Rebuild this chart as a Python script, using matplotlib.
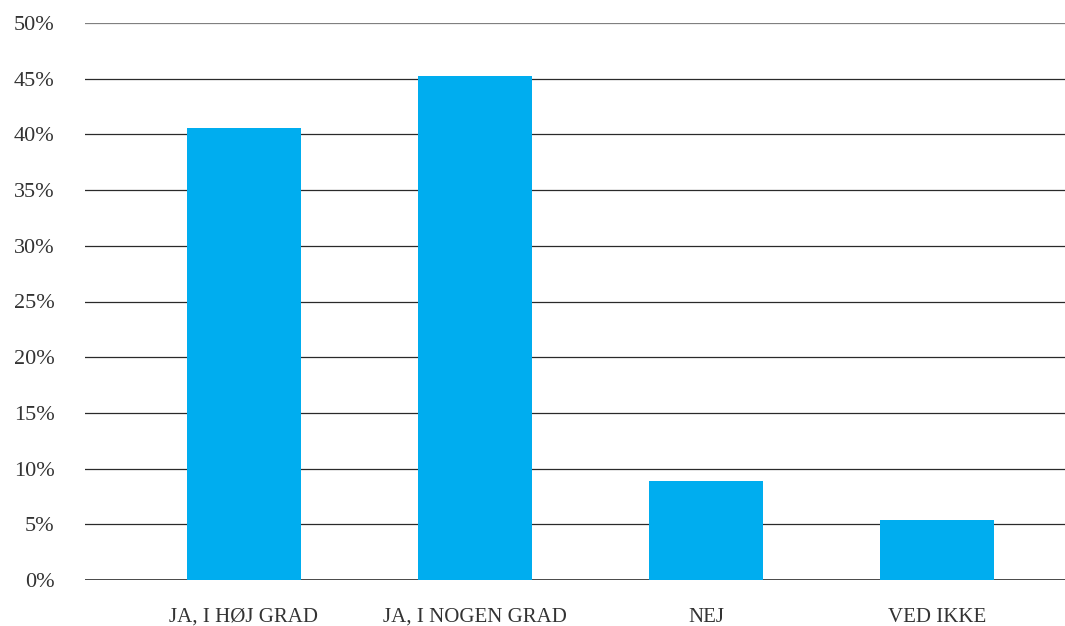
import matplotlib.pyplot as plt

categories = ["JA, I HØJ GRAD", "JA, I NOGEN GRAD", "NEJ", "VED IKKE"]
values = [40.6, 45.2, 8.9, 5.4]
yticks = [0, 5, 10, 15, 20, 25, 30, 35, 40, 45, 50]

plt.rcParams["font.family"] = ["Liberation Serif", "DejaVu Serif"]

fig = plt.figure(figsize=(10.65, 6.26), dpi=100)
ax = fig.add_axes([85 / 1065, 46 / 626, 980 / 1065, 557 / 626])

ax.bar(range(len(categories)), values, width=0.49, color="#00adef", zorder=3)

for y in yticks:
    col = "#808080" if y == 50 else "#2a2a2a"
    ax.axhline(y, color=col, lw=0.9 if y else 1.2, zorder=2)

ax.set_ylim(0, 50)
ax.set_xlim(-0.688, 3.554)
ax.set_yticks(yticks)
ax.set_yticklabels([f"{y}%" for y in yticks], fontsize=16, color="#333333")
ax.set_xticks(range(len(categories)))
ax.set_xticklabels(categories, fontsize=15, color="#333333")
ax.tick_params(length=0)
ax.tick_params(axis="y", pad=22)
ax.tick_params(axis="x", pad=20)
for s in ax.spines.values():
    s.set_visible(False)

fig.savefig("out.png", dpi=100)
